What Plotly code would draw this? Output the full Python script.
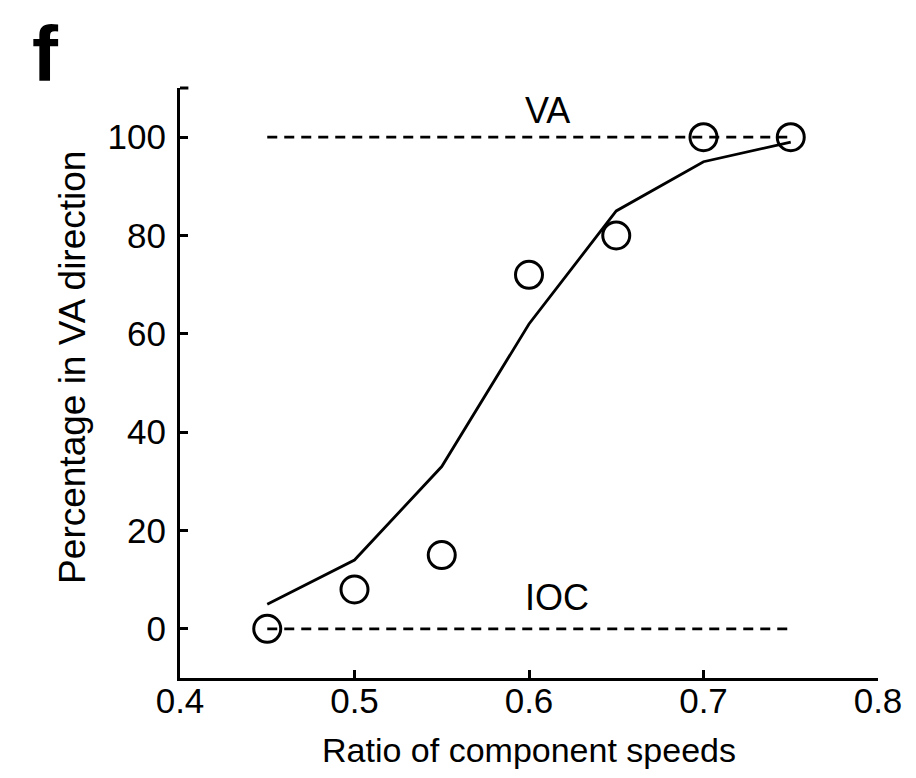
import plotly.graph_objects as go

ratio = [0.45, 0.5, 0.55, 0.6, 0.65, 0.7, 0.75]
observed = [0, 8, 15, 72, 80, 100, 100]
model = [5, 14, 33, 62, 85, 95, 99]
ref_x = [0.45, 0.75]
va_level = [100, 100]
ioc_level = [0, 0]
x_ticks = [0.4, 0.5, 0.6, 0.7, 0.8]
y_ticks = [0, 20, 40, 60, 80, 100]

fig = go.Figure()
fig.add_trace(go.Scatter(x=ref_x, y=va_level, mode="lines",
                         line=dict(color="black", width=2.8, dash="10px,7px")))
fig.add_trace(go.Scatter(x=ref_x, y=ioc_level, mode="lines",
                         line=dict(color="black", width=2.8, dash="10px,7px")))
fig.add_trace(go.Scatter(x=ratio, y=model, mode="lines",
                         line=dict(color="black", width=2.8)))
fig.add_trace(go.Scatter(x=ratio, y=observed, mode="markers",
                         marker=dict(symbol="circle-open", size=27, color="black",
                                     line=dict(width=3, color="black"))))

fig.add_annotation(x=0.6, y=100, text="VA", showarrow=False, xanchor="left", yanchor="bottom",
                   xshift=-6, yshift=4, font=dict(size=36, color="black"))
fig.add_annotation(x=0.6, y=0, text="IOC", showarrow=False, xanchor="left", yanchor="bottom",
                   xshift=-6, yshift=9, font=dict(size=36, color="black"))
fig.add_annotation(x=-0.193, y=1.1356, xref="paper", yref="paper", text="<b>f</b>", showarrow=False,
                   xanchor="center", yanchor="top", font=dict(size=78, color="black"))
fig.add_annotation(x=-0.155, y=0.527, xref="paper", yref="paper",
                   text="Percentage in VA direction", showarrow=False, textangle=-90,
                   xanchor="center", yanchor="middle", font=dict(size=37, color="black"))

axis_common = dict(showgrid=False, zeroline=False, showline=True, linecolor="black",
                   linewidth=3, ticks="inside", ticklen=8, tickwidth=2.5, tickcolor="black",
                   tickfont=dict(size=35, color="black"), mirror=False)

fig.update_xaxes(range=[0.4, 0.8], tickvals=x_ticks, ticktext=[str(v) for v in x_ticks],
                 ticklabelstandoff=-10,
                 title=dict(text="Ratio of component speeds", font=dict(size=34, color="black"),
                            standoff=20), **axis_common)
fig.update_yaxes(range=[-10, 110], tickvals=y_ticks, ticklabelstandoff=4, **axis_common)

fig.add_shape(type="line", xref="paper", yref="paper", x0=0, x1=0.012, y0=1, y1=1,
              line=dict(color="black", width=3))

fig.update_layout(width=916, height=778, showlegend=False,
                  margin=dict(l=172, r=46, t=80, b=108),
                  plot_bgcolor="white", paper_bgcolor="white",
                  font=dict(family="Liberation Sans, Arial, sans-serif", color="black"))

fig.write_html("out.html")
